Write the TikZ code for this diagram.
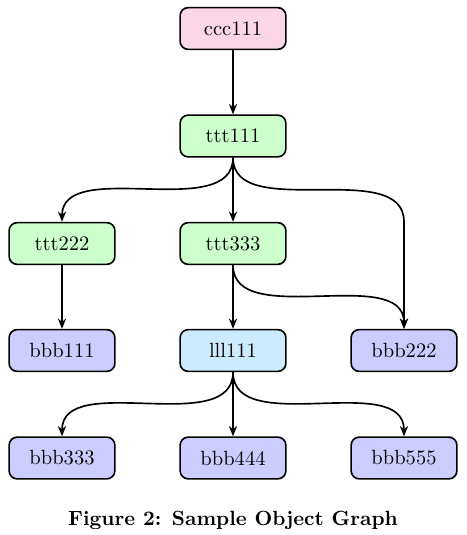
\documentclass[tikz,border=0pt]{standalone}
\usepackage{xcolor}
\usepackage{tikz}
\usetikzlibrary{positioning,arrows.meta,calc}
\definecolor{cpink}{RGB}{251,214,230}
\definecolor{tgreen}{RGB}{204,255,204}
\definecolor{bblue}{RGB}{204,204,255}
\definecolor{lcyan}{RGB}{204,235,252}

\begin{document}
\begin{tikzpicture}[
  x=0.0171cm, y=-0.0171cm,
  obj/.style={draw, thick, rounded corners=4pt, minimum width=1.81cm,
              minimum height=0.715cm, inner sep=2pt},
  ccls/.style={obj, fill=cpink},
  tcls/.style={obj, fill=tgreen},
  bcls/.style={obj, fill=bblue},
  lcls/.style={obj, fill=lcyan},
  link/.style={thick, -{Stealth[length=5pt,width=4pt]}}
]
  \useasboundingbox (0,0) rectangle (466,535);

  % Objects
  \node[ccls] (ccc111) at (233, 28.5) {ccc111};
  \node[tcls] (ttt111) at (233,136)   {ttt111};
  \node[tcls] (ttt222) at ( 62,243.5) {ttt222};
  \node[tcls] (ttt333) at (233,243.5) {ttt333};
  \node[bcls] (bbb111) at ( 62,350.5) {bbb111};
  \node[lcls] (lll111) at (233,350.5) {lll111};
  \node[bcls] (bbb222) at (404,350.5) {bbb222};
  \node[bcls] (bbb333) at ( 62,458)   {bbb333};
  \node[bcls] (bbb444) at (233,458)   {bbb444};
  \node[bcls] (bbb555) at (404,458)   {bbb555};

  % Caption
  \node[font=\bfseries] (caption) at (233,520) {Figure 2: Sample Object Graph};

  % Helper point above bbb222
  \coordinate (bend) at (bbb222.north |- ttt222.north);

  % Links
  \draw[link] (ccc111) -- (ttt111);
  \draw[link] (ttt111.south) .. controls +(0,65) and +(0,-65) .. (ttt222.north);
  \draw[link] (ttt111) -- (ttt333);
  \draw[link] (ttt111.south) .. controls +(0,65) and +(0,-65) .. (bend) -- (bbb222.north);
  \draw[link] (ttt222) -- (bbb111);
  \draw[link] (ttt333) -- (lll111);
  \draw[link] (ttt333.south) .. controls +(0,65) and +(0,-65) .. (bbb222.north);
  \draw[link] (lll111.south) .. controls +(0,66) and +(0,-66) .. (bbb333.north);
  \draw[link] (lll111) -- (bbb444);
  \draw[link] (lll111.south) .. controls +(0,66) and +(0,-66) .. (bbb555.north);
\end{tikzpicture}
\end{document}
